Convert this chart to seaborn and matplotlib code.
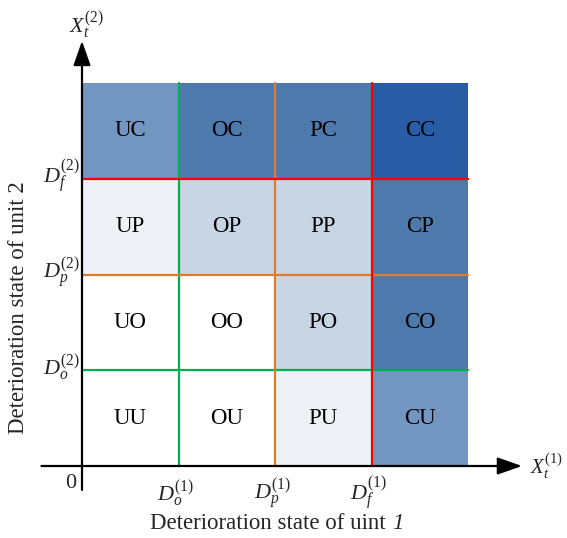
import numpy as np
import matplotlib
matplotlib.use("Agg")
import matplotlib.pyplot as plt
from matplotlib.colors import ListedColormap
import seaborn as sns

# states of each unit, bottom-to-top / left-to-right
unit1_states = ["U", "O", "P", "C"]
unit2_states = ["U", "O", "P", "C"]

# shade level of each cell (rows = unit 2 state, bottom to top)
row_U = [0, 0, 1, 3]
row_O = [0, 0, 2, 4]
row_P = [1, 2, 2, 4]
row_C = [3, 4, 4, 5]

shade_colors = ["#ffffff", "#eef1f6", "#c8d5e5", "#7395c1", "#4e79ad", "#285ca5"]

thresholds = [1, 2, 3]
threshold_names = ["o", "p", "f"]
threshold_colors = ["#00b050", "#e07b29", "#ff0000"]

sns.set_style("white")
plt.rcParams["font.family"] = ["Liberation Serif", "DejaVu Serif"]
plt.rcParams["mathtext.fontset"] = "custom"
plt.rcParams["mathtext.rm"] = "Liberation Serif"
plt.rcParams["mathtext.it"] = "Liberation Serif:italic"
plt.rcParams["mathtext.bf"] = "Liberation Serif:bold"

levels = np.array([row_U, row_O, row_P, row_C])
labels = np.array([[c + r for c in unit1_states] for r in unit2_states])

fig = plt.figure(figsize=(5.67, 5.38), dpi=100)
ax = fig.add_axes([82 / 567, 72 / 538, 386 / 567, 383 / 538])

sns.heatmap(
    levels,
    ax=ax,
    cmap=ListedColormap(shade_colors),
    vmin=-0.5,
    vmax=len(shade_colors) - 0.5,
    cbar=False,
    annot=labels,
    fmt="",
    annot_kws={"fontsize": 16.5, "color": "black", "family": "Liberation Serif"},
    linewidths=0,
)
ax.invert_yaxis()
ax.set_xlim(0, 4)
ax.set_ylim(0, 4)
ax.axis("off")

# threshold lines
for t, c in zip(thresholds, threshold_colors):
    ax.plot([t, t], [0, 4], color=c, lw=1.6, clip_on=False)
    ax.plot([0, 4], [t, t], color=c, lw=1.6, clip_on=False)

# axes with arrows
arrow = dict(arrowstyle="-|>,head_length=1.0,head_width=0.35", lw=1.6,
             color="black", mutation_scale=15, shrinkA=0, shrinkB=0)
ax.annotate("", xy=(4.56, 0), xytext=(-0.42, 0), arrowprops=arrow, annotation_clip=False)
ax.annotate("", xy=(0, 4.44), xytext=(0, -0.25), arrowprops=arrow, annotation_clip=False)

# tick labels
for t, n in zip(thresholds, threshold_names):
    ax.text(t - 0.03, -0.29, rf"$D_{n}^{{(1)}}$", ha="center", va="center", fontsize=16)
    ax.text(-0.02, t + 0.02, rf"$D_{n}^{{(2)}}$", ha="right", va="center", fontsize=16)
ax.text(-0.12, -0.18, "0", ha="center", va="center", fontsize=16)

ax.text(4.64, 0.0, r"$X_t^{(1)}$", ha="left", va="center", fontsize=15)
ax.text(0.05, 4.6, r"$X_t^{(2)}$", ha="center", va="center", fontsize=16)

xl = ax.text(1.96, -0.71, "Deterioration state of uint ", ha="center", va="bottom", fontsize=16.5)
ax.annotate("1", xy=(1, 0), xycoords=xl, ha="left", va="bottom",
            fontsize=16.5, fontstyle="italic", annotation_clip=False)
ax.text(-0.66, 1.65, "Deterioration state of unit 2", ha="center", va="center",
        rotation=90, fontsize=16.5)

fig.savefig("out.png", dpi=100)
